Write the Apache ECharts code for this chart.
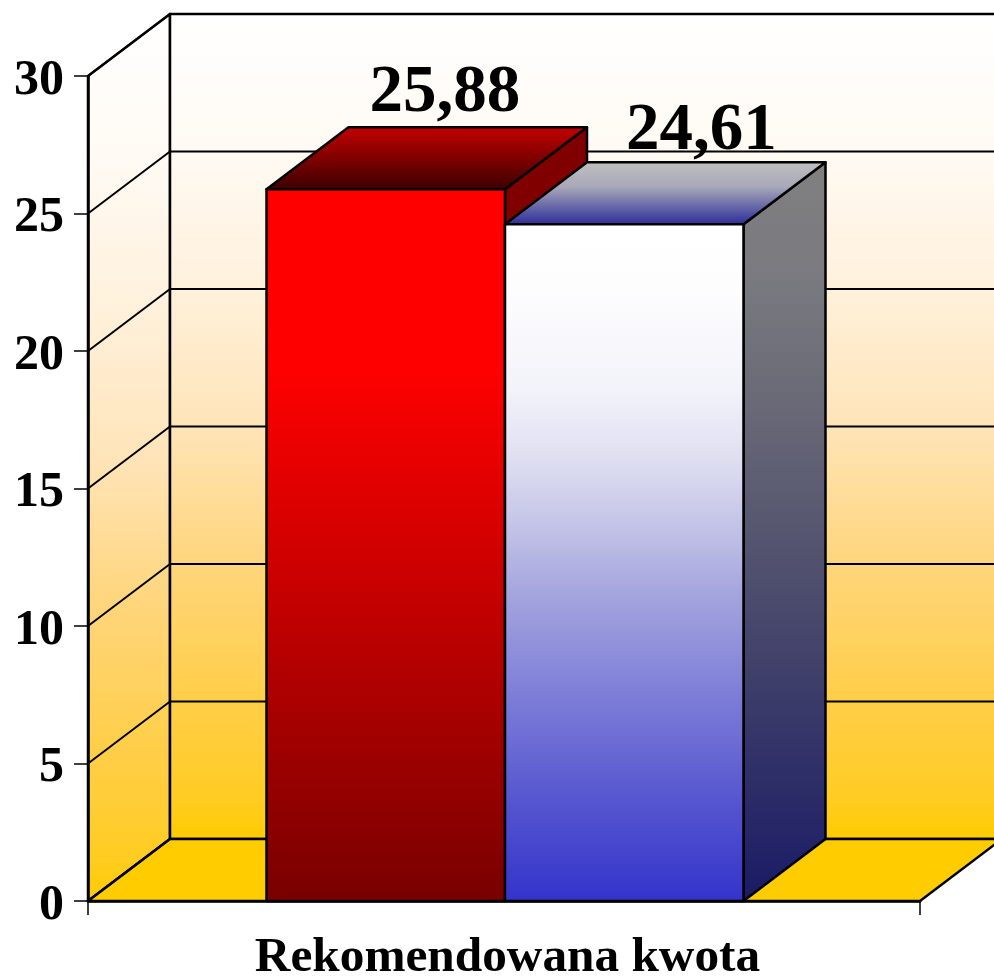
<!DOCTYPE html>
<html>
<head>
<meta charset="utf-8">
<style>html,body{margin:0;padding:0;background:#fff}#c{width:994px;height:977px}</style>
<script src="https://cdn.jsdelivr.net/npm/echarts@6/dist/echarts.min.js"></script>
</head>
<body>
<div id="c"></div>
<script>
const categories = ['Rekomendowana kwota'];
const redValues = [25.88];
const blueValues = [24.61];
const valueTicks = [0, 5, 10, 15, 20, 25, 30];
const valueLabels = ['25,88', '24,61'];

const DX = 82, DY = -62;
const BAR = 238.5 / 832;
const MID_SHIFT = 1;
const FONT = '"Liberation Serif","Times New Roman",serif';
const chart = echarts.init(document.getElementById('c'), null, {renderer: 'canvas'});
const vg = (stops) => ({type: 'linear', x: 0, y: 0, x2: 0, y2: 1, global: false,
  colorStops: stops.map(s => ({offset: s[0], color: s[1]}))});
const line = {stroke: '#000', lineWidth: 2.5, lineJoin: 'round'};
const wallStops = [[0, '#FFFFFF'], [0.17, '#FFFAF3'], [0.33, '#FFF1DC'], [0.5, '#FFE4B8'], [0.67, '#FFD57A'], [0.83, '#FFCE48'], [0.95, '#FFCC22'], [1, '#FFCB00']];

function renderWalls(params, api) {
  const cs = params.coordSys;
  const x0 = cs.x, x1 = cs.x + cs.width, yT = cs.y, yB = cs.y + cs.height;
  const wall = vg(wallStops);
  return {type: 'group', children: [
    {type: 'polygon', shape: {points: [[x0, yB], [x0 + DX, yB + DY], [x0 + DX, yT + DY], [x0, yT]]},
      style: {fill: wall, ...line}},
    {type: 'rect', shape: {x: x0 + DX, y: yT + DY, width: cs.width, height: cs.height},
      style: {fill: wall, ...line}},
    {type: 'polygon', shape: {points: [[x0, yB], [x1, yB], [x1 + DX, yB + DY], [x0 + DX, yB + DY]]},
      style: {fill: '#FFCC00', ...line}}
  ]};
}
function renderGrid(params, api) {
  const cs = params.coordSys;
  const y = api.coord([0, api.value(1)])[1];
  const x0 = cs.x, x1 = cs.x + cs.width;
  return {type: 'group', children: [
    {type: 'polyline', shape: {points: [[x0, y], [x0 + DX, y + DY], [x1 + DX, y + DY]]},
      style: {fill: 'none', stroke: '#000', lineWidth: 2, lineJoin: 'round'}}
  ]};
}
function makeBar(side, fills, labelDx, labelDy) {
  return function (params, api) {
    const c = api.coord([api.value(0), api.value(1)]);
    const b = api.coord([api.value(0), 0]);
    const w = api.size([1, 0])[0] * BAR;
    const mid = c[0] + MID_SHIFT;
    const l = side < 0 ? mid - w : mid, r = l + w, t = c[1], y0 = b[1];
    return {type: 'group', children: [
      {type: 'polygon', shape: {points: [[r, y0], [r + DX, y0 + DY], [r + DX, t + DY], [r, t]]},
        style: {fill: fills.side, ...line}},
      {type: 'polygon', shape: {points: [[l, t], [r, t], [r + DX, t + DY], [l + DX, t + DY]]},
        style: {fill: fills.top, ...line}},
      {type: 'rect', shape: {x: l, y: t, width: w, height: y0 - t},
        style: {fill: fills.front, ...line}},
      {type: 'text', x: (l + r) / 2 + labelDx, y: t + DY + labelDy, z2: 50,
        style: {text: valueLabels[side < 0 ? 0 : 1], fill: '#000', font: 'bold 67px ' + FONT,
          textAlign: 'center', textVerticalAlign: 'bottom'}}
    ]};
  };
}
const redFills = {
  front: vg([[0, '#FF0000'], [0.25, '#FF0000'], [1, '#780000']]),
  side: '#800000',
  top: vg([[0, '#C40000'], [1, '#3A0000']])
};
const blueFills = {
  front: vg([[0, '#FFFFFF'], [0.1, '#FDFDFE'], [0.25, '#F2F2FA'], [0.35, '#DEDEF1'], [0.45, '#C2C2E7'], [0.55, '#A4A4DE'], [0.7, '#7C7CD8'], [0.85, '#5656D0'], [1, '#3333CC']]),
  side: vg([[0, '#808080'], [0.15, '#7A7A80'], [0.3, '#6C6C78'], [0.5, '#565670'], [0.7, '#3E3E6A'], [1, '#1A1A66']]),
  top: vg([[0, '#C0C0C0'], [0.4, '#A8A8B8'], [1, '#2A2A99']])
};

chart.setOption({
  animation: false,
  backgroundColor: '#fff',
  grid: {left: 88, right: 74, top: 76, bottom: 76, containLabel: false, outerBoundsMode: 'none'},
  xAxis: {type: 'category', data: categories, z: 7,
    axisLine: {lineStyle: {color: '#000', width: 2.5}},
    axisTick: {show: true, alignWithLabel: false, length: 14, lineStyle: {color: '#000', width: 1.5}},
    axisLabel: {color: '#000', fontFamily: FONT, fontWeight: 'bold', fontSize: 49.3, margin: 33, interval: 0,
      formatter: '{a|{value}}',
      rich: {a: {fontFamily: FONT, fontWeight: 'bold', fontSize: 49.3, color: '#000', padding: [0, 0, 0, 7]}}}},
  yAxis: {type: 'value', min: 0, max: 30, interval: 5, z: 3,
    axisLine: {show: true, lineStyle: {color: '#000', width: 2.5}},
    axisTick: {show: true, length: 14, lineStyle: {color: '#000', width: 1.5}},
    axisLabel: {color: '#000', fontFamily: FONT, fontWeight: 'bold', fontSize: 50, margin: 24, verticalAlign: 'top', lineHeight: 10},
    splitLine: {show: false}},
  series: [
    {type: 'custom', z: 1, coordinateSystem: 'cartesian2d', renderItem: renderWalls, data: [[0, 0]], silent: true},
    {type: 'custom', z: 2, coordinateSystem: 'cartesian2d', renderItem: renderGrid, data: valueTicks.map(v => [0, v]), silent: true},
    {type: 'custom', z: 5, name: 'red', coordinateSystem: 'cartesian2d', renderItem: makeBar(-1, redFills, 59, 0), data: redValues.map((v, i) => [i, v])},
    {type: 'custom', z: 6, name: 'blue', coordinateSystem: 'cartesian2d', renderItem: makeBar(1, blueFills, 77, 3), data: blueValues.map((v, i) => [i, v])}
  ]
});
</script>
</body>
</html>
